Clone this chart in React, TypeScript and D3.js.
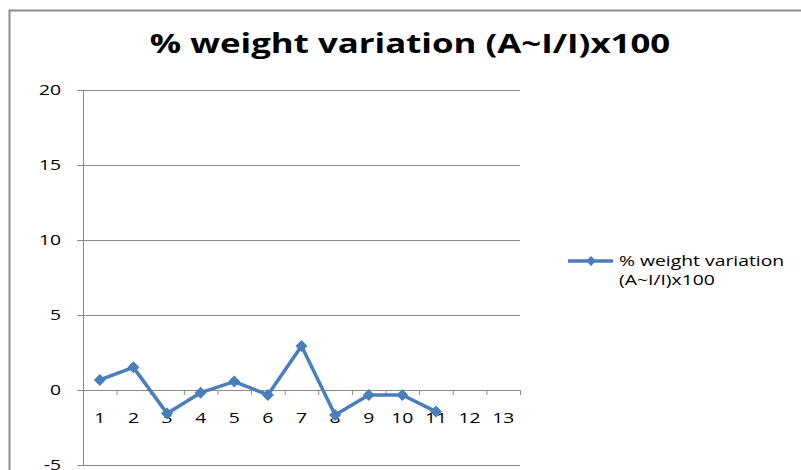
import React from "react";
import * as d3 from "d3";

const width = 801;
const height = 470;

const categories = ["1", "2", "3", "4", "5", "6", "7", "8", "9", "10", "11", "12", "13"];
const values = [0.67, 1.51, -1.56, -0.18, 0.56, -0.33, 2.93, -1.67, -0.33, -0.33, -1.44];
const yTicks = [-5, 0, 5, 10, 15, 20];
const seriesName = ["% weight variation", "(A~I/I)x100"];
const title = "% weight variation (A~I/I)x100";

const plot = { left: 83, right: 520, top: 90, bottom: 465 };
const blue = "#4A7EBB";
const grid = "#8A8A8A";
const font = "'Open Sans', sans-serif";
// the source picture is stretched sideways, so the text is too
const sx = 1.29;

const x = d3.scaleBand<string>().domain(categories).range([plot.left, plot.right]);
const y = d3.scaleLinear().domain([-5, 20]).range([plot.bottom, plot.top]);

const lineGen = d3
  .line<number>()
  .x((_, i) => (x(categories[i]) as number) + x.bandwidth() / 2)
  .y((d) => y(d));

const diamond = (cx: number, cy: number, r: number) =>
  `M${cx},${cy - r}L${cx + r},${cy}L${cx},${cy + r}L${cx - r},${cy}Z`;

const Label = (p: { x: number; y: number; anchor?: string; size: number; bold?: boolean; children: any }) => (
  <text
    transform={`translate(${p.x},${p.y}) scale(${sx},1)`}
    textAnchor={p.anchor || "start"}
    fontFamily={font}
    fontWeight={p.bold ? "bold" : "normal"}
    fontSize={p.size}
    fill="#000"
  >
    {p.children}
  </text>
);

export default function App() {
  const y0 = y(0);
  return (
    <svg width={width} height={height} style={{ position: "absolute", left: 0, top: 0, background: "#fff" }}>
      {/* chart border */}
      <rect x={9.5} y={10.5} width={820} height={500} fill="#fff" stroke="#8C8C8C" strokeWidth={2} />

      {/* title */}
      <Label x={410} y={53} anchor="middle" size={27} bold>
        {title}
      </Label>

      {/* gridlines and y labels */}
      {yTicks.map((t) => (
        <g key={t}>
          <line x1={plot.left - 6} x2={plot.right} y1={y(t) + 0.5} y2={y(t) + 0.5} stroke={grid} strokeWidth={1} />
          <Label x={61} y={y(t) + 5} anchor="end" size={15}>
            {t}
          </Label>
        </g>
      ))}

      {/* y axis */}
      <line x1={plot.left + 0.5} x2={plot.left + 0.5} y1={plot.top} y2={plot.bottom} stroke={grid} strokeWidth={1} />

      {/* x axis at zero with ticks */}
      <line x1={plot.left} x2={plot.right} y1={y0 + 0.5} y2={y0 + 0.5} stroke={grid} strokeWidth={1} />
      {categories.map((c) => (
        <line
          key={"t" + c}
          x1={(x(c) as number) + x.bandwidth() + 0.5}
          x2={(x(c) as number) + x.bandwidth() + 0.5}
          y1={y0}
          y2={y0 + 5}
          stroke={grid}
        />
      ))}
      {categories.map((c) => (
        <Label key={"l" + c} x={(x(c) as number) + x.bandwidth() / 2} y={y0 + 33} anchor="middle" size={15}>
          {c}
        </Label>
      ))}

      {/* series */}
      <path d={lineGen(values) || ""} fill="none" stroke={blue} strokeWidth={3.5} strokeLinejoin="round" />
      {values.map((v, i) => (
        <path key={i} d={diamond((x(categories[i]) as number) + x.bandwidth() / 2, y(v), 6)} fill={blue} />
      ))}

      {/* legend */}
      <line x1={568} x2={613} y1={261} y2={261} stroke={blue} strokeWidth={3.5} />
      <path d={diamond(591, 261, 5)} fill={blue} />
      <Label x={619} y={266} size={15}>
        {seriesName[0]}
      </Label>
      <Label x={619} y={285} size={15}>
        {seriesName[1]}
      </Label>
    </svg>
  );
}
